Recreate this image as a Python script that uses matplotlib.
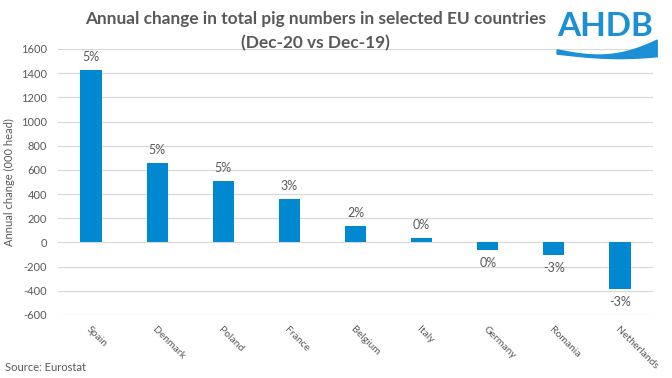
import numpy as np
import matplotlib.pyplot as plt
from matplotlib.patches import Polygon

plt.rcParams['font.family'] = ['Lato', 'DejaVu Sans']

countries = ['Spain', 'Denmark', 'Poland', 'France', 'Belgium', 'Italy', 'Germany', 'Romania', 'Netherlands']
change = [1427, 659, 510, 361, 133, 36, -61, -105, -386]
pct_labels = ['5%', '5%', '5%', '3%', '2%', '0%', '0%', '-3%', '-3%']
yticks = [-600, -400, -200, 0, 200, 400, 600, 800, 1000, 1200, 1400, 1600]

bar_col = '#0089D0'
txt_col = '#595959'

fig = plt.figure(figsize=(6.72, 3.78), dpi=100)
ax = fig.add_axes([0.0863, 0.1667, 0.8854, 0.7037])

x = np.arange(len(countries))
ax.bar(x, change, width=0.32, color=bar_col, zorder=3)

for xi, v, lab in zip(x, change, pct_labels):
	if v >= 0:
		ax.annotate(lab, (xi, v), xytext=(0, 5), textcoords='offset points',
			ha='center', va='bottom', fontsize=9, color=txt_col)
	else:
		ax.annotate(lab, (xi, v), xytext=(0, -5), textcoords='offset points',
			ha='center', va='top', fontsize=9, color=txt_col)

ax.set_xlim(-0.5, len(countries) - 0.5)
ax.set_ylim(-600, 1600)
ax.set_yticks(yticks)
ax.set_yticklabels([str(t) for t in yticks], fontsize=8, color=txt_col)
ax.yaxis.grid(True, color='#D9D9D9', linewidth=0.9, zorder=0)
ax.set_axisbelow(True)
ax.set_xticks(x)
ax.set_xticklabels(countries, rotation=-45, ha='left', va='top', rotation_mode='anchor',
	fontsize=7.5, color=txt_col)
ax.tick_params(axis='both', length=0)
ax.tick_params(axis='x', pad=7)
ax.tick_params(axis='y', pad=8)
for s in ax.spines.values():
	s.set_visible(False)

ax.set_ylabel('Annual change (000 head)', fontsize=8, color=txt_col, labelpad=4)

fig.text(0.469, 0.950, 'Annual change in total pig numbers in selected EU countries',
	ha='center', va='center', fontsize=12.4, fontweight='bold', color=txt_col)
fig.text(0.469, 0.887, '(Dec-20 vs Dec-19)',
	ha='center', va='center', fontsize=12.4, fontweight='bold', color=txt_col)

fig.text(0.008, 0.027, 'Source: Eurostat', ha='left', va='center', fontsize=8, color=txt_col)

# AHDB logo
logo_col = '#1C8FD6'
fig.text(0.900, 0.929, 'AHDB', ha='center', va='center', fontsize=24, fontweight='bold', color=logo_col)
wx = np.linspace(0.829, 0.978, 50)
t = (wx - 0.829) / 0.149
top = 0.868 - 0.016 * np.sin(t * np.pi) + 0.026 * t ** 3
bot = 0.857 - 0.012 * np.sin(t * np.pi * 0.8)
pts = np.concatenate([np.column_stack([wx, top]), np.column_stack([wx[::-1], bot[::-1]])])
fig.patches.append(Polygon(pts, closed=True, transform=fig.transFigure, color=logo_col))

fig.savefig('out.png', dpi=100)
